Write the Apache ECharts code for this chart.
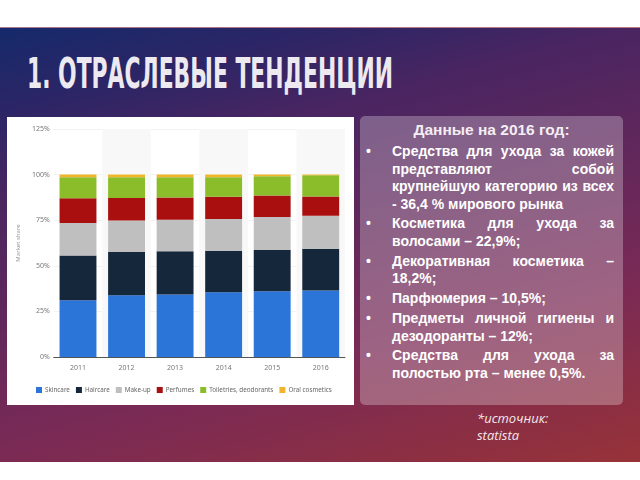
<!DOCTYPE html>
<html>
<head>
<meta charset="utf-8">
<script src="https://cdn.jsdelivr.net/npm/echarts@6/dist/echarts.min.js"></script>
<style>
  html, body { margin: 0; padding: 0; width: 640px; height: 480px; background: #fff; overflow: hidden; }
  .band {
    position: absolute; left: 0; top: 27px; width: 640px; height: 435px;
    background: linear-gradient(165deg, #152a6b 0%, #2c2566 14%, #4a2561 28%, #7a2a55 70%, #973238 100%);
    border-top: 1px solid rgba(255,255,255,0.35);
    box-sizing: border-box;
  }
  .title {
    position: absolute; left: 27px; top: 49px; white-space: nowrap;
    font-family: "DejaVu Sans Condensed", "DejaVu Sans", sans-serif; font-weight: bold;
    font-size: 42px; color: #eceaf0; transform-origin: 0 0;
  }
  .panel {
    position: absolute; left: 7px; top: 117px; width: 347px; height: 288px; background: #fff;
  }
  #chart { width: 347px; height: 288px; }
  .info {
    position: absolute; left: 360px; top: 116px; width: 263px; height: 289px;
    background: rgba(255,255,255,0.27); border-radius: 5px;
    color: #fff; font-family: "Liberation Sans", Arial, sans-serif; font-weight: bold;
  }
  .info h3 { margin: 5px 0 0 0; text-align: center; font-size: 15.5px; font-weight: bold; color: #f4eef4; line-height: 18px; }
  .info ul { list-style: none; margin: 4px 0 0 0; padding: 0 9px 0 32px; font-size: 14px; line-height: 17.5px; }
  .info li { position: relative; text-align: justify; margin-bottom: 2.4px; }
  .info li::before { content: "•"; position: absolute; left: -26px; top: 0; }
  .src {
    position: absolute; left: 477px; top: 410px; color: #f3e8ea;
    font-family: "Open Sans", sans-serif; font-style: italic; font-size: 13px; line-height: 17px;
  }
</style>
</head>
<body>
<div class="band"></div>
<div class="title" id="title">1. ОТРАСЛЕВЫЕ ТЕНДЕНЦИИ</div>
<div class="panel"><div id="chart"></div></div>
<div class="info">
  <h3>Данные на 2016 год:</h3>
  <ul>
    <li>Средства для ухода за кожей представляют собой крупнейшую категорию из всех - 36,4 % мирового рынка</li>
    <li>Косметика для ухода за волосами – 22,9%;</li>
    <li>Декоративная косметика – 18,2%;</li>
    <li>Парфюмерия – 10,5%;</li>
    <li>Предметы личной гигиены и дезодоранты – 12%;</li>
    <li>Средства для ухода за полостью рта – менее 0,5%.</li>
  </ul>
</div>
<div class="src">*источник:<br>statista</div>

<script>
// годы
const years = ["2011", "2012", "2013", "2014", "2015", "2016"];

// доли рынка, %
const skincare = [31.1, 33.8, 34.2, 35.5, 36.0, 36.4];
const haircare = [24.5, 23.8, 23.8, 22.8, 22.7, 22.9];
const makeup = [17.9, 17.2, 17.3, 17.4, 18.1, 18.2];
const perfumes = [13.5, 12.4, 12.1, 12.1, 11.7, 10.5];
const toiletries = [11.5, 11.3, 11.1, 10.7, 10.6, 11.6];
const oral = [1.5, 1.5, 1.5, 1.5, 0.9, 0.4];

const seriesNames = ["Skincare", "Haircare", "Make-up", "Perfumes", "Toiletries, deodorants", "Oral cosmetics"];
const seriesData = [skincare, haircare, makeup, perfumes, toiletries, oral];
const colors = ["#2b74d8", "#14273b", "#bfbfbf", "#aa0f10", "#8bbd2a", "#f0b52a"];

// подгоняем ширину заголовка
const t = document.getElementById("title");
t.style.transform = "scaleX(" + (366 / t.offsetWidth) + ")";

const chart = echarts.init(document.getElementById("chart"));
const option = {
  animation: false,
  color: colors,
  textStyle: { fontFamily: "Noto Sans, sans-serif" },
  legend: {
    data: seriesNames,
    left: 29,
    top: 270,
    width: 330,
    padding: 0,
    icon: "rect",
    itemWidth: 6,
    itemHeight: 6,
    itemGap: 6,
    textStyle: { fontSize: 6.3, color: "#666", padding: [0, 0, 0, -2] },
  },
  grid: { left: 41, right: 9, top: 12, bottom: 48 },
  xAxis: {
    type: "category",
    data: years,
    axisLine: { lineStyle: { color: "#555", width: 1 } },
    axisTick: { show: false },
    axisLabel: { fontSize: 7, color: "#777", margin: 7 },
    splitArea: { show: true, areaStyle: { color: ["rgba(255,255,255,0)", "#f8f8f8"] } },
  },
  yAxis: {
    type: "value",
    min: 0,
    max: 125,
    interval: 25,
    name: "Market share",
    nameLocation: "middle",
    nameGap: 14,
    nameTextStyle: { fontSize: 6, color: "#999" },
    axisLine: { show: false },
    axisTick: { show: false },
    axisLabel: { fontSize: 7, color: "#777", margin: 4, formatter: "{value}%" },
    splitLine: { show: true, lineStyle: { color: "#f2f2f2" } },
  },
  series: seriesNames.map((name, i) => ({
    name: name,
    type: "bar",
    stack: "total",
    barWidth: "76%",
    data: seriesData[i],
  })),
};
chart.setOption(option);
</script>
</body>
</html>
